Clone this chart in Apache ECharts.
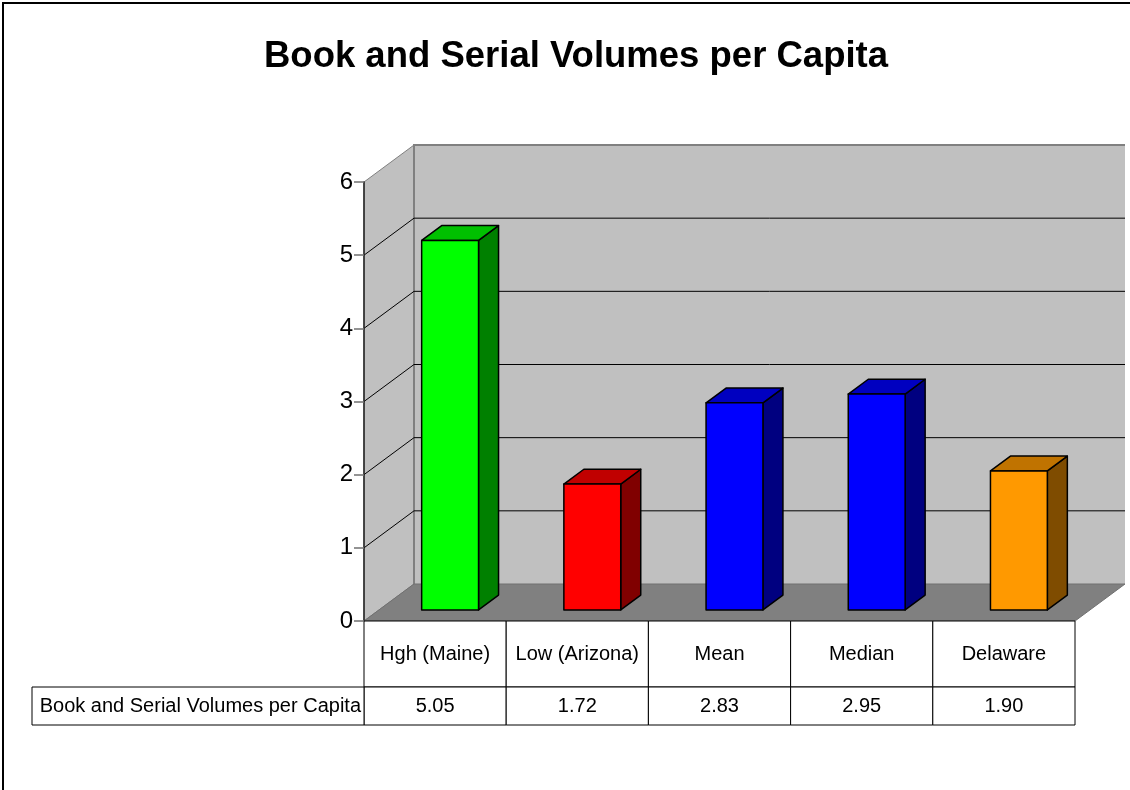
<!DOCTYPE html>
<html>
<head>
<meta charset="utf-8">
<title>Book and Serial Volumes per Capita</title>
<script src="https://cdn.jsdelivr.net/npm/echarts@6/dist/echarts.min.js"></script>
<style>
  html, body { margin: 0; padding: 0; background: #ffffff; }
  #chart { width: 1130px; height: 790px; }
</style>
</head>
<body>
<div id="chart"></div>
<script>
// Categories and values shown in the chart and its data table
const categories = ['Hgh (Maine)', 'Low (Arizona)', 'Mean', 'Median', 'Delaware'];
const values = [5.05, 1.72, 2.83, 2.95, 1.90];
const seriesName = 'Book and Serial Volumes per Capita';
const yTicks = [0, 1, 2, 3, 4, 5, 6];

// Face colours of each 3D column: front, top, right side
const faceColors = [
  { front: '#00ff00', top: '#00c000', side: '#008000' },
  { front: '#ff0000', top: '#c00000', side: '#800000' },
  { front: '#0000ff', top: '#0000c0', side: '#000080' },
  { front: '#0000ff', top: '#0000c0', side: '#000080' },
  { front: '#ff9900', top: '#c07300', side: '#7f4c00' }
];

// Oblique depth vector of the 3D box (pixels from front plane to back wall)
const DEPTH_X = 50;
const DEPTH_Y = -37;
// Column occupies this slice of the depth and this share of its band
const COL_DEPTH_FRONT = 0.3;
const COL_DEPTH_BACK = 0.7;
const COL_WIDTH = 0.4;

const FONT = '"Liberation Sans", Arial, sans-serif';

const chart = echarts.init(document.getElementById('chart'), null, { renderer: 'canvas' });

// Walls, floor and gridlines of the 3D plot area
function renderRoom(params, api) {
  const cs = params.coordSys;
  const xl = cs.x;
  const xr = cs.x + cs.width;
  const yMin = yTicks[0];
  const yMax = yTicks[yTicks.length - 1];
  const y0 = api.coord([0, yMin])[1];
  const yTop = api.coord([0, yMax])[1];
  const children = [];

  // left side wall
  children.push({
    type: 'polygon',
    shape: { points: [[xl, y0], [xl, yTop], [xl + DEPTH_X, yTop + DEPTH_Y], [xl + DEPTH_X, y0 + DEPTH_Y]] },
    style: { fill: '#c0c0c0', stroke: '#808080', lineWidth: 1 }
  });
  // back wall
  children.push({
    type: 'rect',
    shape: { x: xl + DEPTH_X, y: yTop + DEPTH_Y, width: xr - xl, height: y0 - yTop },
    style: { fill: '#c0c0c0' }
  });
  children.push({
    type: 'polyline',
    shape: { points: [[xl + DEPTH_X, y0 + DEPTH_Y], [xl + DEPTH_X, yTop + DEPTH_Y], [xr + DEPTH_X, yTop + DEPTH_Y]] },
    style: { stroke: '#808080', lineWidth: 2, fill: null }
  });
  // gridlines on side and back wall
  yTicks.slice(1, -1).forEach(function (v) {
    const yv = api.coord([0, v])[1];
    children.push({
      type: 'polyline',
      shape: { points: [[xl, yv], [xl + DEPTH_X, yv + DEPTH_Y], [xr + DEPTH_X, yv + DEPTH_Y]] },
      style: { stroke: '#000000', lineWidth: 1, fill: null }
    });
  });
  // floor
  children.push({
    type: 'polygon',
    shape: { points: [[xl, y0], [xr, y0], [xr + DEPTH_X, y0 + DEPTH_Y], [xl + DEPTH_X, y0 + DEPTH_Y]] },
    style: { fill: '#808080', stroke: '#707070', lineWidth: 1 }
  });
  return { type: 'group', children: children };
}

// One 3D column per category
function renderColumn(params, api) {
  const i = api.value(0);
  const v = api.value(1);
  const base = api.coord([i, 0]);
  const top = api.coord([i, v]);
  const band = api.size([1, 0])[0];
  const w = band * COL_WIDTH;
  const xL = base[0] - w / 2 + COL_DEPTH_FRONT * DEPTH_X;
  const xR = xL + w;
  const yB = base[1] + COL_DEPTH_FRONT * DEPTH_Y;
  const yT = top[1] + COL_DEPTH_FRONT * DEPTH_Y;
  const ddx = (COL_DEPTH_BACK - COL_DEPTH_FRONT) * DEPTH_X;
  const ddy = (COL_DEPTH_BACK - COL_DEPTH_FRONT) * DEPTH_Y;
  const c = faceColors[params.dataIndex];
  const edge = { stroke: '#000000', lineWidth: 1.5, lineJoin: 'round' };
  return {
    type: 'group',
    children: [
      {
        type: 'polygon',
        shape: { points: [[xR, yB], [xR, yT], [xR + ddx, yT + ddy], [xR + ddx, yB + ddy]] },
        style: Object.assign({ fill: c.side }, edge)
      },
      {
        type: 'polygon',
        shape: { points: [[xL, yT], [xR, yT], [xR + ddx, yT + ddy], [xL + ddx, yT + ddy]] },
        style: Object.assign({ fill: c.top }, edge)
      },
      {
        type: 'rect',
        shape: { x: xL, y: yT, width: w, height: yB - yT },
        style: Object.assign({ fill: c.front }, edge)
      }
    ]
  };
}

// Data table below the plot: a category row and a value row
const HEAD_ROW_H = 66;
const VALUE_ROW_H = 38;
const LABEL_CELL_LEFT = 32;

function renderTable(params, api) {
  const i = api.value(0);
  const v = api.value(1);
  const base = api.coord([i, 0]);
  const band = api.size([1, 0])[0];
  const x0 = base[0] - band / 2;
  const y0 = base[1];
  const cellStyle = { fill: '#ffffff', stroke: '#000000', lineWidth: 1 };
  const txt = { fill: '#000000', fontFamily: FONT, fontSize: 20, align: 'center', verticalAlign: 'middle' };
  const children = [
    { type: 'rect', shape: { x: x0, y: y0, width: band, height: HEAD_ROW_H }, style: cellStyle },
    { type: 'rect', shape: { x: x0, y: y0 + HEAD_ROW_H, width: band, height: VALUE_ROW_H }, style: cellStyle },
    {
      type: 'text',
      style: Object.assign({ x: x0 + band / 2, y: y0 + HEAD_ROW_H / 2, text: categories[i] }, txt)
    },
    {
      type: 'text',
      style: Object.assign({ x: x0 + band / 2, y: y0 + HEAD_ROW_H + VALUE_ROW_H / 2, text: v.toFixed(2) }, txt)
    }
  ];
  if (params.dataIndex === 0) {
    children.push({
      type: 'rect',
      shape: { x: LABEL_CELL_LEFT, y: y0 + HEAD_ROW_H, width: x0 - LABEL_CELL_LEFT, height: VALUE_ROW_H },
      style: cellStyle
    });
    children.push({
      type: 'text',
      style: Object.assign({}, txt, {
        x: x0 - 3, y: y0 + HEAD_ROW_H + VALUE_ROW_H / 2, text: seriesName, align: 'right'
      })
    });
  }
  return { type: 'group', children: children };
}

const columnData = values.map(function (v, i) { return [i, v]; });

chart.setOption({
  animation: false,
  backgroundColor: '#ffffff',
  title: {
    text: seriesName,
    left: 571,
    textAlign: 'center',
    top: 33,
    textStyle: { fontFamily: FONT, fontSize: 36.5, fontWeight: 'bold', color: '#000000' }
  },
  graphic: [
    {
      type: 'rect',
      z: 100,
      shape: { x: 3, y: 3, width: 1140, height: 800 },
      style: { fill: null, stroke: '#000000', lineWidth: 2 },
      silent: true
    }
  ],
  grid: { left: 364, right: 55, top: 182, bottom: 169, containLabel: false },
  xAxis: {
    type: 'category',
    data: categories,
    axisLine: { show: false },
    axisTick: { show: false },
    axisLabel: { show: false },
    splitLine: { show: false }
  },
  yAxis: {
    type: 'value',
    min: yTicks[0],
    max: yTicks[yTicks.length - 1],
    interval: 1,
    axisLine: { show: true, lineStyle: { color: '#202020', width: 1.5 } },
    axisTick: { show: true, length: 10, lineStyle: { color: '#707070', width: 1.5 } },
    axisLabel: { fontFamily: FONT, fontSize: 24, color: '#000000', margin: 11 },
    splitLine: { show: false },
    z: 10
  },
  series: [
    {
      type: 'custom',
      name: 'room',
      data: [[0, 0]],
      renderItem: renderRoom,
      silent: true,
      z: 1
    },
    {
      type: 'custom',
      name: seriesName,
      data: columnData,
      renderItem: renderColumn,
      z: 3
    },
    {
      type: 'custom',
      name: 'table',
      data: columnData,
      renderItem: renderTable,
      silent: true,
      z: 4
    }
  ]
});
</script>
</body>
</html>
